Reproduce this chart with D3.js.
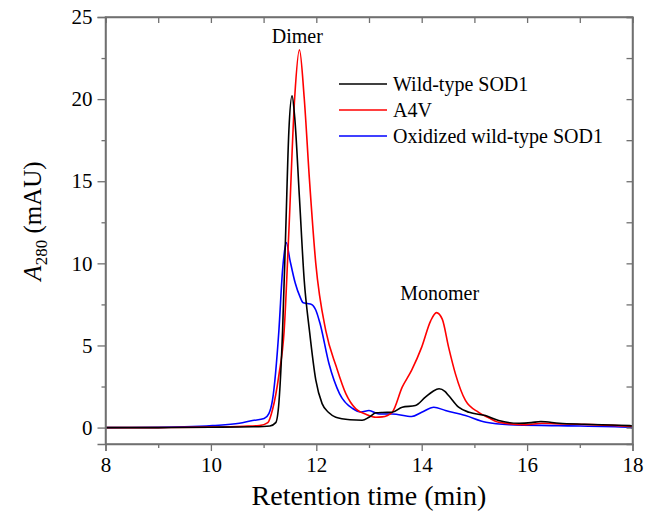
<!DOCTYPE html>
<html>
<head>
<meta charset="utf-8">
<script src="https://cdn.jsdelivr.net/npm/d3@7"></script>
<style>
  html, body { margin: 0; padding: 0; background: #fff; }
  svg { display: block; font-family: "Liberation Serif", "Times New Roman", serif; }
  svg text { font-family: "Liberation Serif", "Times New Roman", serif; }
</style>
</head>
<body>
<svg id="chart" width="652" height="518"></svg>
<script>
// ---- data (retention time in min, absorbance in mAU) ----
const seriesNames = ["Wild-type SOD1", "A4V", "Oxidized wild-type SOD1"];
const seriesColors = ["#000000", "#ff0000", "#0000ff"];

const wtTime = [8.0, 9.0, 10.0, 10.8, 11.12, 11.23, 11.29, 11.36, 11.42, 11.48, 11.54, 11.59, 11.68, 11.77, 11.87, 11.99, 12.11, 12.24, 12.37, 12.64, 12.87, 13.0, 13.13, 13.25, 13.44, 13.63, 13.88, 14.07, 14.21, 14.33, 14.44, 14.51, 14.70, 14.90, 15.21, 15.46, 15.85, 16.08, 16.26, 16.61, 17.09, 17.95, 18.0];
const wtValue = [0, 0, 0.02, 0.05, 0.1, 0.3, 1.5, 5.9, 12, 18.1, 20.2, 18.9, 14, 9.0, 5.9, 2.9, 1.46, 0.9, 0.63, 0.48, 0.45, 0.63, 0.9, 0.92, 0.93, 1.24, 1.34, 1.85, 2.2, 2.36, 2.2, 1.95, 1.24, 0.93, 0.73, 0.43, 0.26, 0.3, 0.37, 0.26, 0.2, 0.12, 0.1];

const a4vTime = [8.0, 9.0, 10.0, 10.62, 10.92, 11.08, 11.17, 11.29, 11.39, 11.48, 11.59, 11.68, 11.77, 11.87, 11.99, 12.18, 12.38, 12.56, 12.75, 12.95, 13.13, 13.25, 13.44, 13.63, 13.81, 14.0, 14.17, 14.28, 14.39, 14.51, 14.64, 14.83, 15.08, 15.27, 15.46, 15.97, 16.28, 16.69, 17.23, 17.95, 18.0];
const a4vValue = [0, 0, 0.03, 0.08, 0.12, 0.3, 1.1, 3.2, 5.9, 12, 20.1, 23.0, 20.1, 15.1, 10, 5.9, 3.7, 2.07, 1.14, 0.8, 0.63, 0.65, 0.93, 2.46, 3.5, 4.9, 6.5, 7.0, 6.6, 4.9, 3.27, 1.65, 0.93, 0.6, 0.32, 0.18, 0.26, 0.22, 0.18, 0.08, 0.07];

const oxTime = [8.0, 9.0, 9.5, 10.03, 10.54, 10.79, 11.01, 11.1, 11.17, 11.29, 11.36, 11.43, 11.5, 11.6, 11.69, 11.75, 11.83, 11.91, 11.99, 12.07, 12.24, 12.44, 12.69, 12.85, 13.0, 13.19, 13.44, 13.81, 14.0, 14.23, 14.45, 14.83, 15.22, 15.66, 16.6, 17.95, 18.0];
const oxValue = [0, 0.01, 0.04, 0.12, 0.26, 0.43, 0.55, 0.85, 1.7, 5.9, 9.6, 11.26, 10.2, 8.8, 7.97, 7.6, 7.55, 7.5, 7.16, 6.35, 3.9, 2.07, 1.16, 0.95, 1.04, 0.83, 0.83, 0.67, 0.93, 1.24, 1.04, 0.73, 0.32, 0.18, 0.12, 0.02, -0.05];

const xMajorTicks = [8, 10, 12, 14, 16, 18];
const xMinorTicks = [9, 11, 13, 15, 17];
const yMajorTicks = [0, 5, 10, 15, 20, 25];
const yMinorTicks = [2.5, 7.5, 12.5, 17.5, 22.5];

const annotations = [
  { text: "Dimer", t: 11.64, v: 23.42 },
  { text: "Monomer", t: 14.34, v: 7.77 }
];

// ---- layout ----
const svg = d3.select("#chart");
const mLeft = 105.5, mRight = 632.5, mTop = 17, mBottom = 444;
const axisColor = "#707070";
const serif = '"Liberation Serif", "Times New Roman", serif';

const x = d3.scaleLinear().domain([8, 18]).range([mLeft, mRight]);
const y = d3.scaleLinear().domain([-1, 25]).range([mBottom, mTop]);

const series = [
  { name: seriesNames[0], color: seriesColors[0], t: wtTime, v: wtValue },
  { name: seriesNames[1], color: seriesColors[1], t: a4vTime, v: a4vValue },
  { name: seriesNames[2], color: seriesColors[2], t: oxTime, v: oxValue }
];

const line = d3.line()
  .x(d => x(d[0]))
  .y(d => y(d[1]))
  .curve(d3.curveMonotoneX);

const plot = svg.append("g");
[2, 1, 0].forEach(i => {
  const s = series[i];
  plot.append("path")
    .datum(s.t.map((t, k) => [t, s.v[k]]))
    .attr("fill", "none")
    .attr("stroke", s.color)
    .attr("stroke-width", 1.6)
    .attr("stroke-linejoin", "round")
    .attr("d", line);
});

function styleTicks(g, keepDomain) {
  if (keepDomain) g.select(".domain").attr("stroke", axisColor).attr("stroke-width", 1.5);
  else g.select(".domain").remove();
  g.selectAll(".tick line").attr("stroke", axisColor).attr("stroke-width", 1.3);
  g.selectAll(".tick text").attr("fill", "#000").attr("font-size", 21).attr("font-family", serif);
}

// bottom
svg.append("g").attr("transform", `translate(0,${mBottom})`)
  .call(d3.axisBottom(x).tickValues(xMajorTicks).tickFormat(d3.format("d")).tickSizeOuter(0).tickSize(7).tickPadding(6))
  .call(g => styleTicks(g, true));
svg.append("g").attr("transform", `translate(0,${mBottom})`)
  .call(d3.axisBottom(x).tickValues(xMinorTicks).tickFormat("").tickSizeOuter(0).tickSize(4))
  .call(g => styleTicks(g, false));

// left
svg.append("g").attr("transform", `translate(${mLeft},0)`)
  .call(d3.axisLeft(y).tickValues(yMajorTicks).tickFormat(d3.format("d")).tickSizeOuter(0).tickSize(8).tickPadding(5))
  .call(g => styleTicks(g, true));
svg.append("g").attr("transform", `translate(${mLeft},0)`)
  .call(d3.axisLeft(y).tickValues(yMinorTicks).tickFormat("").tickSizeOuter(0).tickSize(4))
  .call(g => styleTicks(g, false));

// top (inward ticks)
svg.append("g").attr("transform", `translate(0,${mTop})`)
  .call(d3.axisTop(x).tickValues(xMajorTicks.concat(xMinorTicks)).tickFormat("").tickSizeOuter(0).tickSize(-6))
  .call(g => styleTicks(g, true));

// right (inward ticks)
svg.append("g").attr("transform", `translate(${mRight},0)`)
  .call(d3.axisRight(y).tickValues(yMajorTicks.concat(yMinorTicks)).tickFormat("").tickSizeOuter(0).tickSize(-6))
  .call(g => styleTicks(g, true));

// frame
svg.append("rect")
  .attr("x", mLeft).attr("y", mTop).attr("width", mRight - mLeft).attr("height", mBottom - mTop)
  .attr("fill", "none").attr("stroke", axisColor).attr("stroke-width", 1.5);

// axis titles
svg.append("text")
  .attr("x", (mLeft + mRight) / 2).attr("y", 505)
  .attr("text-anchor", "middle")
  .attr("font-family", serif)
  .attr("font-size", 28)
  .text("Retention time (min)");

const yt = svg.append("text")
  .attr("transform", "translate(41,221) rotate(-90)")
  .attr("text-anchor", "middle")
  .attr("font-family", serif)
  .attr("font-size", 25);
yt.append("tspan").style("font-style", "italic").text("A");
yt.append("tspan").attr("dy", 6).attr("font-size", 17).text("280");
yt.append("tspan").attr("dy", -6).text(" (mAU)");

// annotations
svg.append("g").selectAll("text").data(annotations).join("text")
  .attr("x", d => x(d.t)).attr("y", d => y(d.v))
  .attr("text-anchor", "middle")
  .attr("font-family", serif)
  .attr("font-size", 20)
  .text(d => d.text);

// legend
const legend = svg.append("g");
series.forEach((s, i) => {
  const ly = 84 + i * 26;
  legend.append("line")
    .attr("x1", 339).attr("x2", 387).attr("y1", ly).attr("y2", ly)
    .attr("stroke", s.color).attr("stroke-width", 1.6);
  legend.append("text")
    .attr("x", 393).attr("y", ly + 7)
    .attr("font-family", serif)
    .attr("font-size", 20)
    .text(s.name);
});
</script>
</body>
</html>
